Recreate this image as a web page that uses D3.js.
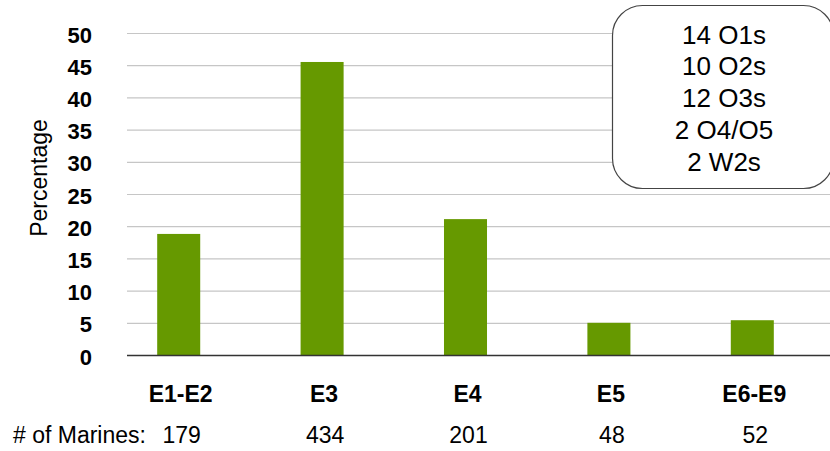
<!DOCTYPE html>
<html><head><meta charset="utf-8">
<script src="https://cdn.jsdelivr.net/npm/d3@7"></script>
<style>body{margin:0;background:#fff}svg{display:block;font-family:"Liberation Sans",Arial,sans-serif}</style>
</head><body>
<svg id="c" width="830" height="451"></svg>
<script>
const categories = ["E1-E2","E3","E4","E5","E6-E9"];
const percentages = [18.8, 45.5, 21.1, 5.0, 5.4];
const marines = [179, 434, 201, 48, 52];
const yTicks = [0,5,10,15,20,25,30,35,40,45,50];
const boxLines = ["14 O1s","10 O2s","12 O3s","2 O4/O5","2 W2s"];

const svg = d3.select("#c");
const x = d3.scaleBand().domain(categories).range([107, 824]).paddingInner(0.7).paddingOuter(0.35);
const y = d3.scaleLinear().domain([0, 50]).range([355, 33]);

// gridlines
svg.append("g").selectAll("line").data(yTicks.filter(d => d > 0)).join("line")
  .attr("x1", 127).attr("x2", 830)
  .attr("y1", d => y(d) + 0.5).attr("y2", d => y(d) + 0.5)
  .attr("stroke", "#c6c6c6").attr("stroke-width", 1.2);

// bars
svg.append("g").selectAll("rect").data(percentages).join("rect")
  .attr("x", (d, i) => x(categories[i]))
  .attr("width", x.bandwidth())
  .attr("y", d => y(d))
  .attr("height", d => y(0) - y(d))
  .attr("fill", "#669900");

// baseline axis
svg.append("line").attr("x1", 127).attr("x2", 830).attr("y1", y(0) + 0.5).attr("y2", y(0) + 0.5)
  .attr("stroke", "#333").attr("stroke-width", 1.3);

// y tick labels
svg.append("g").selectAll("text").data(yTicks).join("text")
  .attr("x", 92).attr("y", d => y(d) + 9.5)
  .attr("text-anchor", "end").attr("font-size", 22).attr("font-weight", "bold").attr("fill", "#000")
  .text(d => d);

// y axis title
svg.append("text").attr("transform", "translate(47,178) rotate(-90)")
  .attr("text-anchor", "middle").attr("font-size", 23).attr("fill", "#000").text("Percentage");

// x labels
svg.append("g").selectAll("text").data(categories).join("text")
  .attr("x", d => x(d) + x.bandwidth() / 2 + 2).attr("y", 402)
  .attr("text-anchor", "middle").attr("font-size", 23).attr("font-weight", "bold").attr("fill", "#000")
  .text(d => d);

// marines row
svg.append("text").attr("x", 13).attr("y", 443).attr("font-size", 23).attr("fill", "#000").text("# of Marines:");
svg.append("g").selectAll("text").data(marines).join("text")
  .attr("x", (d, i) => x(categories[i]) + x.bandwidth() / 2 + 3).attr("y", 443)
  .attr("text-anchor", "middle").attr("font-size", 23).attr("fill", "#000")
  .text(d => d);

// annotation box
svg.append("rect").attr("x", 612.5).attr("y", 5.5).attr("width", 221).attr("height", 183)
  .attr("rx", 30).attr("ry", 30).attr("fill", "#fff").attr("stroke", "#444").attr("stroke-width", 1.2);
svg.append("g").selectAll("text").data(boxLines).join("text")
  .attr("x", 724).attr("y", (d, i) => 43.5 + i * 31.8)
  .attr("text-anchor", "middle").attr("font-size", 26).attr("fill", "#000")
  .text(d => d);
</script>
</body></html>
